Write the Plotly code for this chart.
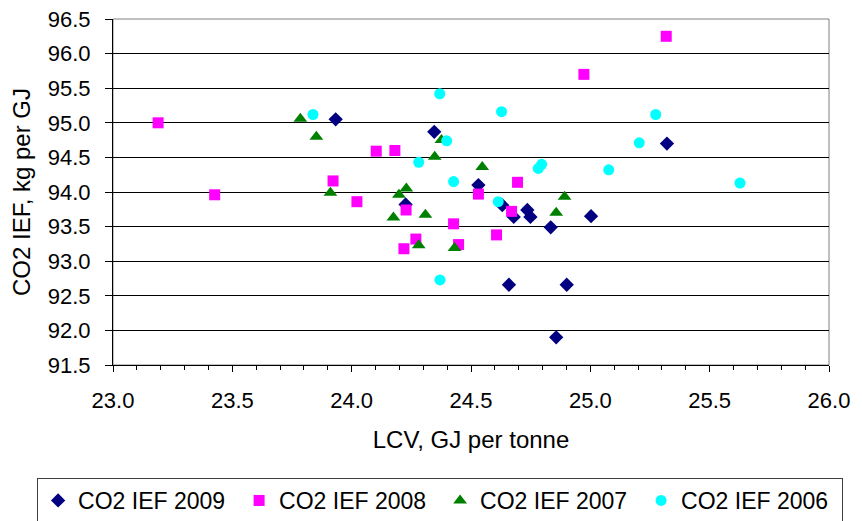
import plotly.graph_objects as go

# LCV (GJ per tonne) and CO2 implied emission factor (kg per GJ)
lcv_2009 = [23.933, 24.346, 24.531, 24.226, 24.631, 24.679, 24.736, 24.749, 25.003, 24.834, 24.659, 24.901, 24.857, 25.321]
ief_2009 = [95.05, 94.87, 94.10, 93.82, 93.81, 93.64, 93.74, 93.64, 93.65, 93.49, 92.66, 92.66, 91.90, 94.70]

lcv_2008 = [23.189, 23.426, 23.922, 24.973, 25.318, 24.103, 24.181, 24.695, 24.531, 24.022, 24.228, 24.670, 24.427, 24.607, 24.269, 24.219, 24.448]
ief_2008 = [95.00, 93.96, 94.16, 95.70, 96.25, 94.59, 94.60, 94.14, 93.97, 93.86, 93.74, 93.72, 93.54, 93.38, 93.32, 93.18, 93.24]

lcv_2007 = [23.785, 23.852, 23.911, 24.376, 24.348, 24.547, 24.892, 24.229, 24.198, 24.857, 24.175, 24.309, 24.281, 24.431]
ief_2007 = [95.06, 94.80, 93.99, 94.75, 94.51, 94.36, 93.93, 94.05, 93.96, 93.70, 93.63, 93.67, 93.23, 93.19]

lcv_2006 = [23.838, 24.369, 24.628, 24.398, 24.281, 24.796, 24.782, 24.427, 24.614, 24.370, 25.274, 25.205, 25.077, 25.627]
ief_2006 = [95.12, 95.42, 95.16, 94.74, 94.43, 94.40, 94.34, 94.15, 93.86, 92.73, 95.12, 94.71, 94.32, 94.13]

series = [
    ('CO2 IEF 2009', lcv_2009, ief_2009, 'diamond', '#000080', 11),
    ('CO2 IEF 2008', lcv_2008, ief_2008, 'square', '#FF00FF', 11),
    ('CO2 IEF 2007', lcv_2007, ief_2007, 'triangle-up', '#008000', 12),
    ('CO2 IEF 2006', lcv_2006, ief_2006, 'circle', '#00FFFF', 11),
]

font = 'Liberation Sans, Arial, sans-serif'

fig = go.Figure()
for name, xs, ys, sym, col, sz in series:
    fig.add_trace(go.Scatter(
        x=xs, y=ys, mode='markers', name=name,
        marker=dict(symbol=sym, color=col, size=sz, line=dict(width=0)),
    ))

# page body has an 8px margin, so the figure is 8px smaller than the window
fig.update_layout(
    width=854, height=513,
    margin=dict(l=105, r=33, t=11, b=156, autoexpand=False),
    paper_bgcolor='white', plot_bgcolor='white',
    font=dict(family=font, size=22, color='black'),
    showlegend=True,
    legend=dict(
        orientation='h', x=-0.106, xanchor='left', y=-0.3266, yanchor='top',
        bordercolor='#404040', borderwidth=1, bgcolor='white',
        font=dict(size=23), entrywidth=156, entrywidthmode='pixels',
        itemwidth=30, tracegroupgap=0,
    ),
    shapes=[dict(type='rect', xref='paper', yref='paper', x0=0, x1=1, y0=0, y1=1,
                 line=dict(color='#808080', width=1), layer='below')],
)

fig.update_xaxes(
    range=[23.0, 26.0], dtick=0.5, tick0=23.0, tickformat='.1f',
    showgrid=False, zeroline=False, automargin=False,
    showline=True, linecolor='black', linewidth=1,
    ticks='outside', ticklen=6, tickcolor='black', ticklabelstandoff=10,
    ticklabeloverflow='allow',
    minor=dict(dtick=0.1, tick0=23.0, ticks='outside', ticklen=4, tickcolor='black', showgrid=False),
    title=dict(text='LCV, GJ per tonne', font=dict(size=24), standoff=18),
)
fig.update_yaxes(
    range=[91.5, 96.5], dtick=0.5, tick0=91.5, tickformat='.1f',
    showgrid=True, gridcolor='black', gridwidth=1, zeroline=False, automargin=False,
    showline=True, linecolor='black', linewidth=1,
    ticks='outside', ticklen=7, tickcolor='black', ticklabelstandoff=10,
    ticklabeloverflow='allow',
    title=dict(text='CO2 IEF, kg per GJ', font=dict(size=24), standoff=20),
)

fig.write_html('out.html')
